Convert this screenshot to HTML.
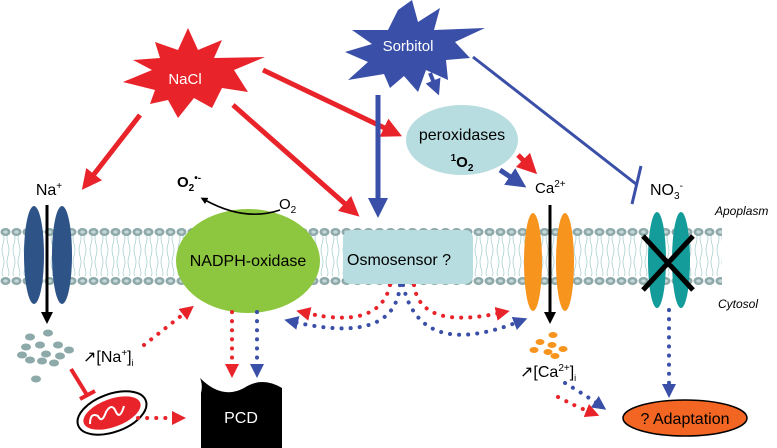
<!DOCTYPE html><html><head><meta charset="utf-8"><style>body{margin:0;background:#fff}svg{display:block;font-family:"Liberation Sans",sans-serif}</style></head><body>
<svg width="777" height="448" viewBox="0 0 777 448" xmlns="http://www.w3.org/2000/svg">
<defs>
<pattern id="lip" x="0" y="226" width="11" height="62" patternUnits="userSpaceOnUse">
<path d="M3,6 q2,6 0,12 q-2,6 0,12 q2,6 0,12 q-2,6 0,8 M8,6 q-2,6 0,12 q2,6 0,12 q-2,6 0,12 q2,6 0,8" stroke="#a9cfcf" stroke-width="0.8" fill="none"/>
<ellipse cx="5.5" cy="6" rx="5" ry="4" fill="#8da9a9"/><ellipse cx="5.5" cy="6" rx="2.2" ry="1.6" fill="#c8d8d8"/>
<ellipse cx="5.5" cy="55" rx="5" ry="4" fill="#8da9a9"/><ellipse cx="5.5" cy="55" rx="2.2" ry="1.6" fill="#c8d8d8"/>
</pattern>
<marker id="ar" markerWidth="4" markerHeight="4" refX="2" refY="2" orient="auto" markerUnits="strokeWidth"><path d="M0,0 L4,2 L0,4z" fill="#e8242a"/></marker>
<marker id="ab" markerWidth="4" markerHeight="4" refX="2" refY="2" orient="auto" markerUnits="strokeWidth"><path d="M0,0 L4,2 L0,4z" fill="#3a4fa8"/></marker>
<marker id="ak" markerWidth="4" markerHeight="4" refX="2" refY="2" orient="auto" markerUnits="strokeWidth"><path d="M0,0 L4,2 L0,4z" fill="#000"/></marker>
<marker id="ark" markerWidth="7" markerHeight="7" refX="2" refY="3.5" orient="auto" markerUnits="userSpaceOnUse"><path d="M0,0 L7,3.5 L0,7z" fill="#000"/></marker>
<marker id="dr" markerWidth="14" markerHeight="14" refX="4" refY="7" orient="auto" markerUnits="userSpaceOnUse"><path d="M0,0 L14,7 L0,14z" fill="#e8242a"/></marker>
<marker id="db" markerWidth="14" markerHeight="14" refX="4" refY="7" orient="auto" markerUnits="userSpaceOnUse"><path d="M0,0 L14,7 L0,14z" fill="#3a4fa8"/></marker>
</defs>
<rect x="0" y="226" width="722" height="62" fill="url(#lip)"/>
<!-- stars -->
<polygon points="188,28 198,50 222,40 214,58 265,57 234,70 248,92 222,88 212,108 194,98 178,118 168,100 150,104 155,90 123,82 152,70 133,60 160,58 155,42 178,50" fill="#e8242a"/>
<text x="185" y="84" fill="#fff" font-size="15" text-anchor="middle">NaCl</text>
<polygon points="412,0 418,22 440,8 434,30 485,28 455,42 470,58 446,60 448,80 426,70 418,92 404,76 390,88 384,74 348,80 368,62 345,52 372,44 352,30 388,30 398,10" fill="#3a4fa8"/>
<text x="408" y="51" fill="#fff" font-size="15" text-anchor="middle">Sorbitol</text>
<!-- solid arrows -->
<g stroke-width="5" fill="none">
<line x1="140" y1="115" x2="88" y2="182" stroke="#e8242a" marker-end="url(#ar)"/>
<line x1="233" y1="105" x2="352" y2="210" stroke="#e8242a" marker-end="url(#ar)"/>
<line x1="263" y1="70" x2="393" y2="132" stroke="#e8242a" marker-end="url(#ar)"/>
<line x1="378" y1="95" x2="378" y2="208" stroke="#3a4fa8" marker-end="url(#ab)"/>
<line x1="430" y1="73" x2="436" y2="88" stroke="#3a4fa8" stroke-width="4" marker-end="url(#ab)"/>
<line x1="518" y1="155" x2="530" y2="167" stroke="#e8242a" marker-end="url(#ar)"/>
<line x1="500" y1="170" x2="518" y2="182" stroke="#3a4fa8" marker-end="url(#ab)"/>
<line x1="473" y1="57" x2="636" y2="184" stroke="#3a4fa8" stroke-width="3"/>
<line x1="641" y1="166" x2="632" y2="204" stroke="#3a4fa8" stroke-width="3"/>
</g>
<!-- peroxidases -->
<ellipse cx="462" cy="140" rx="56" ry="35" fill="#b7dde0"/>
<text x="462" y="140" font-size="16" text-anchor="middle">peroxidases</text>
<text x="462" y="167" font-size="15" font-weight="bold" text-anchor="middle"><tspan font-size="10" dy="-6">1</tspan><tspan dy="6">O</tspan><tspan font-size="10" dy="4">2</tspan></text>
<!-- Na channel -->
<ellipse cx="34" cy="255" rx="10" ry="49" fill="#2d5387"/>
<ellipse cx="62" cy="255" rx="10" ry="49" fill="#2d5387"/>
<text x="49" y="195" font-size="16" text-anchor="middle">Na<tspan font-size="10" dy="-6">+</tspan></text>
<line x1="47" y1="205" x2="47" y2="318" stroke="#000" stroke-width="3" marker-end="url(#ak)"/>
<g fill="#8da9a9">
<ellipse cx="30" cy="337" rx="5" ry="3.5"/><ellipse cx="48" cy="333" rx="5" ry="3.5"/><ellipse cx="26" cy="347" rx="5" ry="3.5"/><ellipse cx="40" cy="345" rx="5" ry="3.5"/><ellipse cx="58" cy="345" rx="5" ry="3.5"/><ellipse cx="22" cy="355" rx="5" ry="3.5"/><ellipse cx="46" cy="354" rx="5" ry="3.5"/><ellipse cx="69" cy="350" rx="5" ry="3.5"/><ellipse cx="30" cy="360" rx="5" ry="3.5"/><ellipse cx="60" cy="356" rx="5" ry="3.5"/><ellipse cx="42" cy="361" rx="5" ry="3.5"/><ellipse cx="54" cy="363" rx="5" ry="3.5"/><ellipse cx="36" cy="379" rx="5" ry="3.5"/>
</g>
<line x1="71" y1="369" x2="87" y2="395" stroke="#e8242a" stroke-width="4"/>
<line x1="80" y1="399" x2="95" y2="391" stroke="#e8242a" stroke-width="4"/>
<text x="83" y="362" font-size="16"><tspan font-size="16">↗</tspan>[Na<tspan font-size="10" dy="-6">+</tspan><tspan dy="6">]</tspan><tspan font-size="9" dy="4">i</tspan></text>
<!-- mitochondrion -->
<ellipse cx="112" cy="413" rx="36" ry="19" transform="rotate(-20 112 413)" fill="#fff" stroke="#000" stroke-width="2"/>
<ellipse cx="112" cy="413" rx="30" ry="14" transform="rotate(-20 112 413)" fill="#e8242a"/>
<path d="M90,424 q0,-12 8,-8 q4,8 8,-4 q6,-10 10,0 q4,8 8,-6" stroke="#fff" stroke-width="2" fill="none"/>
<line x1="138" y1="418" x2="176" y2="418" stroke="#e8242a" stroke-width="4" stroke-dasharray="0.1 9" stroke-linecap="round" marker-end="url(#dr)"/>
<!-- NADPH -->
<ellipse cx="248" cy="261" rx="72" ry="52" fill="#8dc63f"/>
<text x="248" y="266" font-size="16" text-anchor="middle">NADPH-oxidase</text>
<path d="M280,210 Q245,222 205,200" stroke="#000" stroke-width="1.6" fill="none" marker-end="url(#ark)"/>
<text x="279" y="209" font-size="15">O<tspan font-size="10" dy="4">2</tspan></text>
<text x="177" y="187" font-size="15" font-weight="bold">O<tspan font-size="10" dy="4">2</tspan><tspan font-size="10" dy="-10">•-</tspan></text>
<g stroke-width="4" fill="none" stroke-dasharray="0.1 9" stroke-linecap="round">
<path d="M144,345 L186,312" stroke="#e8242a" marker-end="url(#dr)"/>
<line x1="232" y1="312" x2="232" y2="368" stroke="#e8242a" marker-end="url(#dr)"/>
<line x1="257" y1="312" x2="257" y2="368" stroke="#3a4fa8" marker-end="url(#db)"/>
<path d="M390,285 Q380,330 306,313" stroke="#e8242a" marker-end="url(#dr)"/>
<path d="M400,285 Q395,345 294,322" stroke="#3a4fa8" marker-end="url(#db)"/>
<path d="M414,285 Q420,330 500,313" stroke="#e8242a" marker-end="url(#dr)"/>
<path d="M403,285 Q420,360 518,322" stroke="#3a4fa8" marker-end="url(#db)"/>
<path d="M565,383 Q585,395 598,404" stroke="#3a4fa8" marker-end="url(#db)"/>
<path d="M558,397 Q575,406 590,412" stroke="#e8242a" marker-end="url(#dr)"/>
<line x1="669" y1="310" x2="669" y2="388" stroke="#3a4fa8" marker-end="url(#db)"/>
</g>
<!-- PCD flag -->
<path d="M200,378 Q203,385 201,393 L201,448 L282,448 L282,388 Q262,376 244,388 Q222,400 200,378z" fill="#000"/>
<text x="241" y="423" font-size="16" fill="#fff" text-anchor="middle">PCD</text>
<!-- osmosensor -->
<rect x="343" y="230" width="130" height="54" rx="8" fill="#b7dde0"/>
<text x="347" y="265" font-size="16">Osmosensor ?</text>
<!-- Ca channel -->
<ellipse cx="533" cy="262" rx="9" ry="49" fill="#f7941d"/>
<ellipse cx="565" cy="262" rx="9" ry="49" fill="#f7941d"/>
<text x="535" y="193" font-size="15">Ca<tspan font-size="10" dy="-6">2+</tspan></text>
<line x1="550" y1="205" x2="550" y2="318" stroke="#000" stroke-width="3" marker-end="url(#ak)"/>
<g fill="#f7941d"><ellipse cx="553" cy="335" rx="4.5" ry="3"/><ellipse cx="540" cy="342" rx="4.5" ry="3"/><ellipse cx="552" cy="345" rx="4.5" ry="3"/><ellipse cx="534" cy="350" rx="4.5" ry="3"/><ellipse cx="548" cy="352" rx="4.5" ry="3"/><ellipse cx="563" cy="349" rx="4.5" ry="3"/><ellipse cx="555" cy="356" rx="4.5" ry="3"/></g>
<text x="520" y="377" font-size="16"><tspan>↗</tspan>[Ca<tspan font-size="10" dy="-6">2+</tspan><tspan dy="6">]</tspan><tspan font-size="9" dy="4">i</tspan></text>
<!-- NO3 channel -->
<ellipse cx="657" cy="260" rx="9" ry="48" fill="#139c9a"/>
<ellipse cx="681" cy="260" rx="9" ry="48" fill="#139c9a"/>
<line x1="643" y1="236" x2="693" y2="290" stroke="#000" stroke-width="5"/>
<line x1="693" y1="236" x2="643" y2="290" stroke="#000" stroke-width="5"/>
<text x="650" y="195" font-size="16">NO<tspan font-size="10" dy="4">3</tspan><tspan font-size="10" dy="-10">-</tspan></text>
<text x="715" y="215" font-size="12" font-style="italic">Apoplasm</text>
<text x="718" y="308" font-size="12" font-style="italic">Cytosol</text>
<!-- adaptation -->
<ellipse cx="685" cy="418" rx="62" ry="18" fill="#f26522" stroke="#000" stroke-width="1.5"/>
<text x="685" y="424" font-size="16" text-anchor="middle">? Adaptation</text>
</svg>
</body></html>
